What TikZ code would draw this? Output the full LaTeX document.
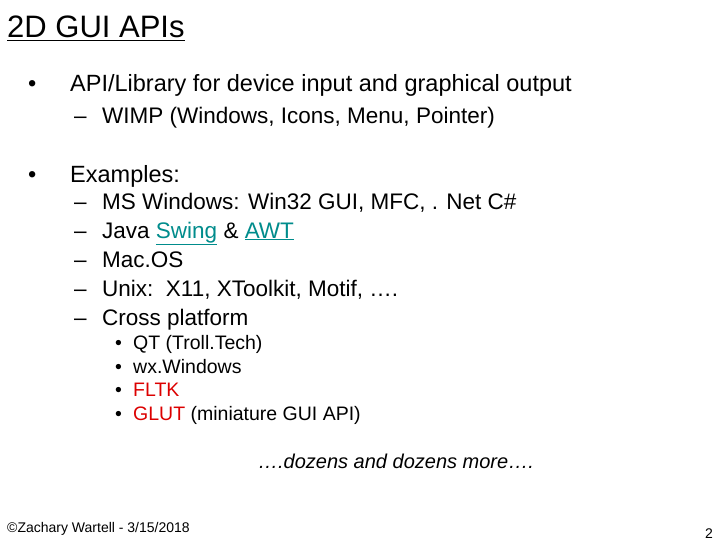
\documentclass[tikz,border=0pt]{standalone}
\usepackage{fontspec}
\setmainfont{Liberation Sans}
\definecolor{lnk}{RGB}{0,140,140}
\definecolor{rd}{RGB}{220,0,0}
\begin{document}
\begin{tikzpicture}[x=1pt,y=-1pt,
  b/.style={anchor=base west,inner sep=0pt,font=\fontsize{23.5}{26}\selectfont},
  t/.style={anchor=base west,inner sep=0pt,font=\fontsize{22.5}{26}\selectfont},
  s/.style={anchor=base west,inner sep=0pt,font=\fontsize{19.5}{22}\selectfont}]
\fill[white] (0,0) rectangle (720,540);
\node[anchor=base west,inner sep=0pt,font=\fontsize{31}{34}\selectfont] (title) at (7,38) {\underline{2D GUI APIs}};
\node[b] (b1) at (28,92) {•};
\node[b] (l1) at (70,92) {API/Library for device input and graphical output};
\node[t] (d1) at (74,124) {–};
\node[t] (l2) at (102,124) {WIMP (Windows, Icons, Menu, Pointer)};
\node[b] (b2) at (28,183) {•};
\node[b] (l3) at (70,183) {Examples:};
\node[t] (d2) at (74,210) {–}; \node[t] (l4) at (102,210) {MS Windows: Win32 GUI, MFC, . Net C\#};
\node[t] (d3) at (74,238) {–}; \node[t] (l5) at (102,238) {Java \textcolor{lnk}{\underline{Swing}} \& \textcolor{lnk}{\underline{AWT}}};
\node[t] (d4) at (74,267) {–}; \node[t] (l6) at (102,267) {Mac.OS};
\node[t] (d5) at (74,296) {–}; \node[t] (l7) at (102,296) {Unix:\ \ X11, XToolkit, Motif, ….};
\node[t] (d6) at (74,325) {–}; \node[t] (l8) at (102,325) {Cross platform};
\node[s] (e1) at (115,349) {•}; \node[s] (m1) at (133,349) {QT (Troll.Tech)};
\node[s] (e2) at (115,373) {•}; \node[s] (m2) at (133,373) {wx.Windows};
\node[s] (e3) at (115,396) {•}; \node[s] (m3) at (133,396) {\textcolor{rd}{FLTK}};
\node[s] (e4) at (115,420) {•}; \node[s] (m4) at (133,420) {\textcolor{rd}{GLUT} (miniature GUI API)};
\node[anchor=base,inner sep=0pt,font=\fontsize{20}{22}\selectfont\itshape] (more) at (396,468) {….dozens and dozens more….};
\node[anchor=base west,inner sep=0pt,font=\fontsize{14}{16}\selectfont] (foot) at (7,532) {©Zachary Wartell - 3/15/2018};
\node[anchor=base east,inner sep=0pt,font=\fontsize{14}{16}\selectfont] (pg) at (713,538) {2};
\end{tikzpicture}
\end{document}
